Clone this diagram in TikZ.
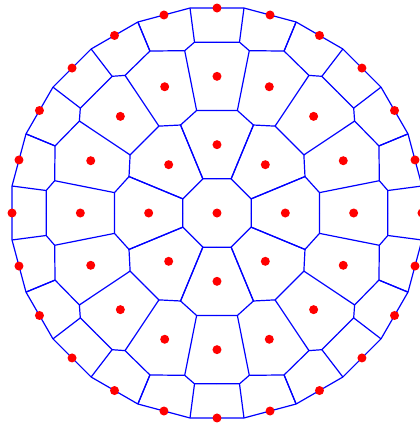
\documentclass[tikz,border=0pt]{standalone}
\begin{document}
\begin{tikzpicture}[x=68.33pt,y=68.33pt,
  edge/.style={draw=blue, line width=1.2pt, line join=round},
  dot/.style={circle, fill=red, inner sep=0pt, minimum size=9pt}]
\useasboundingbox (-217pt,-211pt) rectangle (203pt,213pt);
% Voronoi edges, one fundamental sector repeated by symmetry
\foreach \k in {0,...,7}{
  \foreach \s in {1,-1}{
    \begin{scope}[rotate=45*\k, yscale=\s]
      \draw[edge] (0:0.5) -- (22.5:0.5412) -- (22.5:1.3939) -- (11.25:1.5294) -- (0:1.5);
      \draw[edge] (11.25:1.5294) -- (11.25:2.4224) -- (7.5:2.5216) -- (0:2.5);
      \draw[edge] (11.25:2.4224) -- (22.5:2.5656) -- (22.5:3.0258);
      \draw[edge] (7.5:2.5216) -- (7.5:3.0258);
    \end{scope}
  }
}
% bounding polygon
\draw[edge] (7.5:3.0258) \foreach \i in {1,...,23}{ -- ({7.5+15*\i}:3.0258)} -- cycle;
% sites
\node[dot] (c) at (0,0) {};
\foreach \i in {0,...,7} \node[dot] (pa\i) at ({45*\i}:1) {};
\foreach \i in {0,...,15} \node[dot] (pb\i) at ({22.5*\i}:2) {};
\foreach \i in {0,...,23} \node[dot] (pc\i) at ({15*\i}:3) {};
\end{tikzpicture}
\end{document}
